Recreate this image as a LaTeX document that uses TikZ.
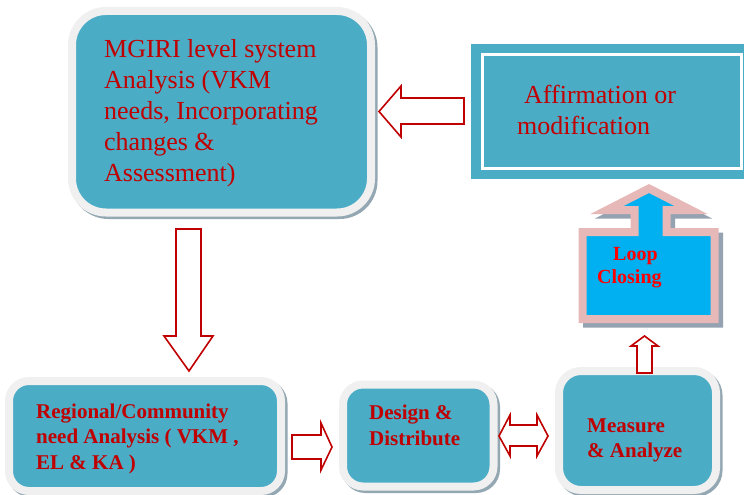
\documentclass[tikz,border=0pt]{standalone}
\usepackage{fontspec}
\setmainfont{Liberation Serif}
\begin{document}
\definecolor{panelblue}{HTML}{4BACC6}
\definecolor{framegray}{HTML}{F0F0F0}
\definecolor{shadowgray}{HTML}{93A8B3}
\definecolor{darkred}{HTML}{C00000}
\definecolor{loopblue}{HTML}{00B0F0}
\definecolor{looppink}{HTML}{E6B9B8}
\definecolor{loopshadow}{HTML}{95A2B2}
\begin{tikzpicture}[x=1pt,y=-1pt,
  panel/.style={fill=panelblue, draw=framegray, line width=8pt, inner sep=0pt,
    preaction={draw=shadowgray, fill=shadowgray, line width=8pt,
      transform canvas={shift={(2.5,2.5)}}}},
  blockarrow/.style={draw=darkred, fill=white, line width=1.6pt, line join=miter},
  bigtext/.style={anchor=base west, inner sep=0pt, align=left, text=darkred,
    font=\fontsize{26}{31}\selectfont},
  boldtext/.style={anchor=base west, inner sep=0pt, align=left, text=darkred,
    font=\bfseries\fontsize{21}{25.5}\selectfont}]
\useasboundingbox (0,0) rectangle (744,495);

% rounded panels
\node[panel, rounded corners=34pt, minimum width=299pt, minimum height=201.5pt]
  (mgiri) at (221.5,111.75) {};
\node[panel, rounded corners=20pt, minimum width=272pt, minimum height=110pt]
  (regional) at (145,436) {};
\node[panel, rounded corners=20pt, minimum width=150.5pt, minimum height=102pt]
  (design) at (418.25,435.5) {};
\node[panel, rounded corners=22pt, minimum width=157pt, minimum height=119pt]
  (measure) at (637.5,430.5) {};

% framed rectangle at the top right
\node[fill=panelblue, inner sep=0pt, minimum width=281pt, minimum height=135pt]
  (affirm) at (611.5,111.5) {};
\draw[white, line width=3pt] (482,54.5) rectangle (741,168);

% loop closing shape with its shadow
\begin{scope}[shift={(4.5,4.5)}]
  \draw[loopshadow, fill=loopshadow, line width=8pt, line join=miter]
    (582.5,232) -- (634.5,232) -- (634.5,210) -- (607,210) -- (649,188.5)
    -- (691,210) -- (666.5,210) -- (666.5,232) -- (714.5,232) -- (714.5,319)
    -- (582.5,319) -- cycle;
\end{scope}
\draw[looppink, fill=loopblue, line width=8pt, line join=miter]
  (582.5,232) -- (634.5,232) -- (634.5,210) -- (607,210) -- (649,188.5)
  -- (691,210) -- (666.5,210) -- (666.5,232) -- (714.5,232) -- (714.5,319)
  -- (582.5,319) -- cycle;

% block arrows
\draw[blockarrow] (464,98) -- (401,98) -- (401,86) -- (379,111.5) -- (401,137)
  -- (401,124) -- (464,124) -- cycle;
\draw[blockarrow] (176,229) -- (201,229) -- (201,336) -- (213,336) -- (189,371)
  -- (164,336) -- (176,336) -- cycle;
\draw[blockarrow] (292,435) -- (321,435) -- (321,423) -- (332,447) -- (321,470)
  -- (321,459) -- (292,459) -- cycle;
\draw[blockarrow] (499,436) -- (510,415) -- (510,425) -- (537,425) -- (537,415)
  -- (548,436) -- (537,456) -- (537,446) -- (510,446) -- (510,456) -- cycle;
\draw[blockarrow] (637,373) -- (637,346) -- (631,346) -- (644.5,336) -- (658,346)
  -- (652,346) -- (652,373) -- cycle;

% labels (anchored at the baseline of their last line)
\node[bigtext] (mgiritext) at (104,181)
  {MGIRI level system\\Analysis (VKM\\needs, Incorporating\\changes \&\\Assessment)};
\node[bigtext] (affirmtext) at (517,134)
  {\hspace*{7pt}Affirmation or\\modification};
\node[boldtext] (regionaltext) at (36,469)
  {Regional/Community\\need Analysis ( VKM ,\\EL \& KA )};
\node[boldtext] (designtext) at (369,445) {Design \&\\Distribute};
\node[boldtext] (measuretext) at (587,457.5) {Measure\\\& Analyze};
\node[anchor=base west, inner sep=0pt, align=left, text=red,
  font=\bfseries\fontsize{20}{23}\selectfont] (looptext) at (597,283)
  {\hspace*{16pt}Loop\\Closing};
\end{tikzpicture}
\end{document}
